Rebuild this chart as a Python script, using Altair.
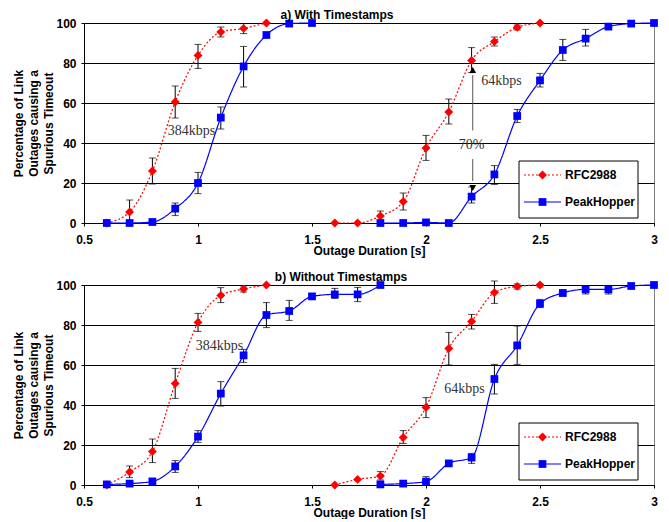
import altair as alt
import pandas as pd

# ---------------- data: a) With Timestamps ----------------
a_rfc_x = [0.6, 0.7, 0.8, 0.9, 1.0, 1.1, 1.2, 1.3,
           1.6, 1.7, 1.8, 1.9, 2.0, 2.1, 2.2, 2.3, 2.4, 2.5]
a_rfc_y = [0, 5.5, 26, 60.5, 83.8, 95.5, 97.3, 100,
           0, 0, 3.5, 10.7, 37.5, 55.5, 81.3, 90.7, 97.8, 100]
a_rfc_g = ["384"] * 8 + ["64"] * 10
a_rfc_lo = [None, 0, 19.5, 52.5, 77.3, 93, 94.7, None,
            None, None, 1, 6.5, 31.3, 49.5, 75.2, 88.5, 96.5, None]
a_rfc_hi = [None, 11.5, 32.5, 68.5, 89.3, 98, 99.7, None,
            None, None, 6, 15, 43.8, 62, 87.7, 93, 99, None]

a_ph_x = [0.6, 0.7, 0.8, 0.9, 1.0, 1.1, 1.2, 1.3, 1.4, 1.5,
          1.8, 1.9, 2.0, 2.1, 2.2, 2.3, 2.4, 2.5, 2.6, 2.7, 2.8, 2.9, 3.0]
a_ph_y = [0, 0, 0.5, 7.2, 20, 52.7, 78.3, 94, 99.7, 100,
          0, 0, 0.3, 0, 13.2, 24.3, 53.5, 71.3, 86.5, 92.2, 98.2, 99.7, 100]
a_ph_g = ["384"] * 10 + ["64"] * 13
a_ph_lo = [None, None, None, 3.7, 14.7, 47, 68, None, None, None,
           None, None, None, None, 10, 19.3, 50.2, 68, 81.3, 88.5, None, None, None]
a_ph_hi = [None, None, None, 10, 25.3, 58, 88.3, None, None, None,
           None, None, None, None, 18, 28.7, 56.8, 74.8, 91.8, 96.8, None, None, None]

# ---------------- data: b) Without Timestamps ----------------
b_rfc_x = [0.6, 0.7, 0.8, 0.9, 1.0, 1.1, 1.2, 1.3,
           1.6, 1.7, 1.8, 1.9, 2.0, 2.1, 2.2, 2.3, 2.4, 2.5]
b_rfc_y = [0, 6.5, 16.7, 50.7, 81.3, 94.8, 98, 100,
           0, 2.8, 4.5, 23.8, 38.8, 68.3, 81.8, 96.2, 99.3, 100]
b_rfc_g = ["384"] * 8 + ["64"] * 10
b_rfc_lo = [None, 3.7, 11.2, 43.3, 76.8, 91.2, 96.5, None,
            None, None, 2.5, 20.8, 33.7, 60, 78, 90.8, 98, 99]
b_rfc_hi = [None, 9.5, 23, 58.3, 85.8, 98.7, 99.5, None,
            None, None, 6.7, 27.2, 43.7, 76.3, 85.3, 102, 100.5, 100.5]

b_ph_x = [0.6, 0.7, 0.8, 0.9, 1.0, 1.1, 1.2, 1.3, 1.4, 1.5, 1.6, 1.7, 1.8,
          1.8, 1.9, 2.0, 2.1, 2.2, 2.3, 2.4, 2.5, 2.6, 2.7, 2.8, 2.9, 3.0]
b_ph_y = [0.3, 0.7, 1.8, 9.3, 24.2, 45.7, 64.8, 85, 87, 94.3, 95.3, 95.3, 100,
          0.3, 0.7, 1.7, 10.8, 13.7, 53, 69.8, 90.7, 96, 97.8, 97.8, 99.5, 100]
b_ph_g = ["384"] * 13 + ["64"] * 13
b_ph_lo = [None, None, None, 6.3, 21.3, 39.5, 61.3, 78.7, 82.3, 93.5, 93.3, 91.7, None,
           None, None, 0, None, 10.8, 45.5, 60.3, 88.7, 94.5, 95.5, 95.5, None, None]
b_ph_hi = [None, None, None, 12.2, 27.2, 51.7, 67.8, 91.2, 92.3, 95.5, 98.3, 98.8, None,
           None, None, 4.2, None, 15.8, 60.3, 79.5, 92.8, 97.5, 99.5, 99.8, None, None]

# ---------------- annotations ----------------
a_ann_text = ["384kbps", "64kbps", "70%"]
a_ann_x = [0.971, 2.331, 2.20]
a_ann_y = [46, 71, 39]
b_ann_text = ["384kbps", "64kbps"]
b_ann_x = [1.094, 2.169]
b_ann_y = [69.7, 48]
# 70% arrow (panel a): x, segment ends, arrowhead centres
arrow_x = 2.205
arrow_seg_lo = [46.3, 21]
arrow_seg_hi = [74, 32]
arrow_head_up_y = 76.5
arrow_head_down_y = 17.5

panel_titles = ["a) With Timestamps", "b) Without Timestamps"]
series_names = ["RFC2988", "PeakHopper"]
x_ticks = [0.5, 1, 1.5, 2, 2.5, 3]
y_ticks = [0, 20, 40, 60, 80, 100]

RED = "#FF0000"
BLUE = "#0000FF"
SANS = "Liberation Sans"
SERIF = "Liberation Serif"

W, H = 570, 200

xs = alt.Scale(domain=[0.5, 3], nice=False, zero=False)
ys = alt.Scale(domain=[0, 100], nice=False)


def X(field="x"):
    return alt.X(f"{field}:Q", scale=xs,
                 axis=alt.Axis(values=x_ticks, title="Outage Duration [s]",
                               grid=False, labelExpr="datum.value",
                               tickSize=3, labelPadding=8, titlePadding=0,
                               domainColor="black", tickColor="black",
                               labelFlush=False))


def Y(field="y"):
    return alt.Y(f"{field}:Q", scale=ys,
                 axis=alt.Axis(values=y_ticks,
                               title=["Percentage of Link", "Outages causing a",
                                      "Spurious Timeout"],
                               grid=True, gridColor="black", gridWidth=1,
                               tickSize=3, labelPadding=5, titlePadding=0,
                               titleLineHeight=15,
                               domainColor="black", tickColor="black"))


def df_of(xv, yv, g, lo, hi):
    return pd.DataFrame({"x": xv, "y": yv, "grp": g, "lo": lo, "hi": hi})


def series_layers(df, color, dash, shape, size):
    line = alt.Chart(df).mark_line(interpolate="monotone", color=color,
                                   strokeWidth=1.2, strokeDash=dash).encode(
        x=X(), y=Y(), detail="grp:N")
    err_df = df.dropna(subset=["lo", "hi"])
    rule = alt.Chart(err_df).mark_rule(color="black", strokeWidth=1).encode(
        x=X(), y=Y("lo"), y2="hi:Q")
    tick_lo = alt.Chart(err_df).mark_tick(color="black", orient="horizontal",
                                          size=7, thickness=1).encode(
        x=X(), y=Y("lo"))
    tick_hi = alt.Chart(err_df).mark_tick(color="black", orient="horizontal",
                                          size=7, thickness=1).encode(
        x=X(), y=Y("hi"))
    pts = alt.Chart(df).mark_point(shape=shape, filled=True, size=size,
                                   color=color, opacity=1).encode(x=X(), y=Y())
    return [line, rule, tick_lo, tick_hi, pts]


def legend_layers():
    one = pd.DataFrame({"k": [0]})
    box = alt.Chart(one).mark_rect(fill="white", stroke="black",
                                   strokeWidth=1).encode(
        x=alt.value(435), x2=alt.value(554), y=alt.value(138), y2=alt.value(195))
    out = [box]
    specs = [(series_names[0], RED, [2, 2], "diamond", 80, 152),
             (series_names[1], BLUE, [1, 0], "square", 60, 179)]
    for name, col, dash, shape, size, yy in specs:
        out.append(alt.Chart(one).mark_rule(color=col, strokeWidth=1.2,
                                            strokeDash=dash).encode(
            x=alt.value(440), x2=alt.value(477), y=alt.value(yy)))
        out.append(alt.Chart(one).mark_point(shape=shape, filled=True, size=size,
                                             color=col, opacity=1).encode(
            x=alt.value(458.5), y=alt.value(yy)))
        out.append(alt.Chart(one).mark_text(align="left", baseline="middle",
                                            font=SANS, fontSize=12,
                                            fontWeight="bold", color="black",
                                            text=name).encode(
            x=alt.value(481), y=alt.value(yy)))
    return out


def title_layer(text, cx):
    one = pd.DataFrame({"k": [0]})
    return alt.Chart(one).mark_text(align="center", baseline="middle", font=SANS,
                                    fontSize=12, fontWeight="bold", color="black",
                                    text=text).encode(
        x=alt.value(cx), y=alt.value(-8.5))


def ann_layer(texts, axv, ayv):
    d = pd.DataFrame({"x": axv, "y": ayv, "t": texts})
    return alt.Chart(d).mark_text(font=SERIF, fontSize=14, color="#333333",
                                  align="center", baseline="middle").encode(
        x=X(), y=Y(), text="t:N")


def arrow_layers():
    seg = pd.DataFrame({"x": [arrow_x] * 2, "lo": arrow_seg_lo, "hi": arrow_seg_hi})
    r = alt.Chart(seg).mark_rule(color="#555555", strokeWidth=1).encode(
        x=X(), y=Y("lo"), y2="hi:Q")
    up = alt.Chart(pd.DataFrame({"x": [arrow_x], "y": [arrow_head_up_y]})).mark_point(
        shape="triangle-up", filled=True, size=45, color="black", opacity=1).encode(
        x=X(), y=Y())
    dn = alt.Chart(pd.DataFrame({"x": [arrow_x], "y": [arrow_head_down_y]})).mark_point(
        shape="triangle-down", filled=True, size=45, color="black", opacity=1).encode(
        x=X(), y=Y())
    return [r, up, dn]


def panel(title, title_cx, rfc_df, ph_df, ann, arrow):
    layers = []
    if arrow:
        layers += arrow_layers()
    layers += series_layers(rfc_df, RED, [2, 2], "diamond", 80)
    layers += series_layers(ph_df, BLUE, [1, 0], "square", 60)
    layers.append(ann)
    layers += legend_layers()
    layers.append(title_layer(title, title_cx))
    return alt.layer(*layers).properties(width=W, height=H)


top = panel(panel_titles[0], 253,
            df_of(a_rfc_x, a_rfc_y, a_rfc_g, a_rfc_lo, a_rfc_hi),
            df_of(a_ph_x, a_ph_y, a_ph_g, a_ph_lo, a_ph_hi),
            ann_layer(a_ann_text, a_ann_x, a_ann_y), True)
bottom = panel(panel_titles[1], 257,
               df_of(b_rfc_x, b_rfc_y, b_rfc_g, b_rfc_lo, b_rfc_hi),
               df_of(b_ph_x, b_ph_y, b_ph_g, b_ph_lo, b_ph_hi),
               ann_layer(b_ann_text, b_ann_x, b_ann_y), False)

chart = alt.vconcat(top, bottom, spacing=13).properties(
    padding={"left": 4, "top": 0, "right": 0, "bottom": 0}
).configure_axis(
    labelFont=SANS, labelFontSize=12, labelFontWeight="bold", labelColor="black",
    titleFont=SANS, titleFontSize=12, titleFontWeight="bold", titleColor="black",
).configure_view(stroke="#808080", strokeWidth=1)

chart.save("out.html", embed_options={"renderer": "svg", "actions": False})
